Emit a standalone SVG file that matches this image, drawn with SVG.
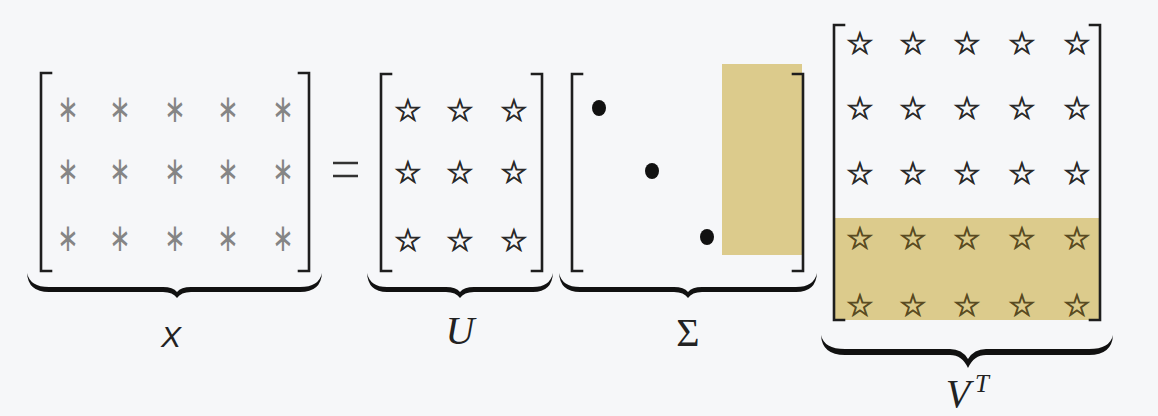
<svg xmlns="http://www.w3.org/2000/svg" width="1158" height="416" viewBox="0 0 1158 416">
<style>
.bk{fill:none;stroke:#1e1e1e;stroke-width:2.6;stroke-linecap:square}
.ast{font-family:"DejaVu Sans",sans-serif;font-size:30px;fill:#858585;text-anchor:middle;dominant-baseline:central}
.star{font-family:"DejaVu Sans",sans-serif;font-size:31px;fill:#2a2a2a;stroke:#2a2a2a;stroke-width:0.9;text-anchor:middle;dominant-baseline:central}
.gstar{fill:#5a4b22;stroke:#5a4b22}
.brace{fill:#111}
.gold{fill:#dccb8c}
.lbl{font-family:"Liberation Serif",serif;font-style:italic;fill:#222;text-anchor:middle}
</style>
<rect width="1158" height="416" fill="#f6f7f9"/>
<g id="matrix-X">
<path class="bk" d="M51,73 H41 V271 H51 M299,73 H309 V271 H299"/>
<g class="ast">
<text transform="translate(68,108) scale(0.85,1.3)">∗</text><text transform="translate(120,108) scale(0.85,1.3)">∗</text><text transform="translate(175,108) scale(0.85,1.3)">∗</text><text transform="translate(228,108) scale(0.85,1.3)">∗</text><text transform="translate(283,108) scale(0.85,1.3)">∗</text>
<text transform="translate(68,170) scale(0.85,1.3)">∗</text><text transform="translate(120,170) scale(0.85,1.3)">∗</text><text transform="translate(175,170) scale(0.85,1.3)">∗</text><text transform="translate(228,170) scale(0.85,1.3)">∗</text><text transform="translate(283,170) scale(0.85,1.3)">∗</text>
<text transform="translate(68,237) scale(0.85,1.3)">∗</text><text transform="translate(120,237) scale(0.85,1.3)">∗</text><text transform="translate(175,237) scale(0.85,1.3)">∗</text><text transform="translate(228,237) scale(0.85,1.3)">∗</text><text transform="translate(283,237) scale(0.85,1.3)">∗</text>
</g>
<path class="brace" d="M27,273 Q28,292 49,292 L163,292 Q173,292 177,298 Q181,292 191,292 L300,292 Q321,292 322,273 Q319,287 300,287 L191,287 Q181,287 177,292 Q173,287 163,287 L49,287 Q30,287 27,273 Z"/>
<text x="171" y="347" style="font-family:'Liberation Sans',sans-serif;font-style:italic;font-size:30px;fill:#222;text-anchor:middle">X</text>
</g>
<g id="equals">
<path d="M333,163 H358 M333,176 H358" stroke="#333" stroke-width="2.6" fill="none"/>
</g>
<g id="matrix-U">
<path class="bk" d="M391,74 H381 V271 H391 M532,74 H542 V271 H532"/>
<g class="star">
<text x="408" y="110">☆</text><text x="460" y="110">☆</text><text x="514" y="110">☆</text>
<text x="408" y="172">☆</text><text x="460" y="172">☆</text><text x="514" y="172">☆</text>
<text x="408" y="240">☆</text><text x="460" y="240">☆</text><text x="514" y="240">☆</text>
</g>
<path class="brace" d="M367,273 Q368,292 387,292 L446,292 Q456,292 460,298 Q464,292 474,292 L533,292 Q552,292 553,273 Q550,287 533,287 L474,287 Q464,287 460,292 Q456,287 446,287 L387,287 Q370,287 367,273 Z"/>
<text class="lbl" x="460" y="344" font-size="40">U</text>
</g>
<g id="matrix-Sigma">
<rect class="gold" x="722" y="64" width="80" height="191"/>
<path class="bk" d="M582,74 H572 V271 H582 M793,74 H803 V271 H793"/>
<ellipse cx="599" cy="108" rx="7" ry="8" fill="#111"/>
<ellipse cx="652" cy="171" rx="7" ry="8" fill="#111"/>
<ellipse cx="707" cy="237" rx="7" ry="8" fill="#111"/>
<path class="brace" d="M559,273 Q560,292 580,292 L674,292 Q684,292 688,298 Q692,292 702,292 L796,292 Q816,292 817,273 Q814,287 796,287 L702,287 Q692,287 688,292 Q684,287 674,287 L580,287 Q562,287 559,273 Z"/>
<text x="688" y="346" style="font-family:'Liberation Serif',serif;font-size:40px;fill:#222;text-anchor:middle">Σ</text>
</g>
<g id="matrix-VT">
<rect class="gold" x="835" y="218" width="265" height="102"/>
<path class="bk" d="M844,25 H834 V320 H844 M1090,25 H1100 V320 H1090"/>
<g class="star">
<text x="860" y="43">☆</text><text x="913" y="43">☆</text><text x="967" y="43">☆</text><text x="1022" y="43">☆</text><text x="1077" y="43">☆</text>
<text x="860" y="108">☆</text><text x="913" y="108">☆</text><text x="967" y="108">☆</text><text x="1022" y="108">☆</text><text x="1077" y="108">☆</text>
<text x="860" y="173">☆</text><text x="913" y="173">☆</text><text x="967" y="173">☆</text><text x="1022" y="173">☆</text><text x="1077" y="173">☆</text>
</g>
<g class="star gstar">
<text x="860" y="238">☆</text><text x="913" y="238">☆</text><text x="967" y="238">☆</text><text x="1022" y="238">☆</text><text x="1077" y="238">☆</text>
<text x="860" y="305">☆</text><text x="913" y="305">☆</text><text x="967" y="305">☆</text><text x="1022" y="305">☆</text><text x="1077" y="305">☆</text>
</g>
<path class="brace" d="M821,335 Q822,355 845,355 L950,355 Q962,355 968,368 Q974,355 986,355 L1089,355 Q1112,355 1113,335 Q1110,349 1089,349 L986,349 Q974,349 968,359 Q962,349 950,349 L845,349 Q824,349 821,335 Z"/>
<text class="lbl" x="958" y="407" font-size="40">V</text>
<text class="lbl" x="982" y="392" font-size="25">T</text>
</g>
</svg>
